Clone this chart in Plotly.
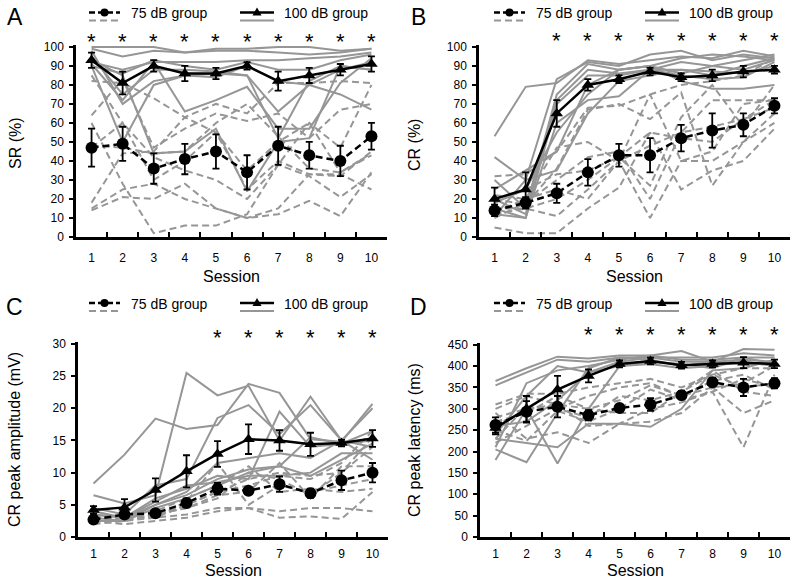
import plotly.graph_objects as go

W, H = 797, 582
sessions = [str(i) for i in range(1, 11)]

# ---------------- Panel A: SR (%) ----------------
A_mean100 = [93, 81, 90, 86, 86, 90, 82, 85, 88, 91]
A_err100 = [4, 6, 3, 4, 3, 2, 5, 4, 3, 4]
A_mean75 = [47, 49, 36, 41, 45, 34, 48, 43, 40, 53]
A_err75 = [10, 9, 8, 8, 9, 9, 10, 7, 8, 7]
A_ind100 = [
    [100, 100, 100, 97, 99, 99, 100, 100, 98, 99],
    [99, 95, 98, 97, 98, 98, 97, 96, 97, 99],
    [92, 88, 92, 92, 92, 93, 93, 94, 95, 97],
    [90, 86, 93, 90, 88, 92, 88, 88, 93, 96],
    [91, 72, 92, 66, 72, 79, 57, 57, 81, 94],
    [98, 70, 82, 85, 86, 85, 66, 80, 88, 92],
    [90, 50, 80, 85, 84, 90, 82, 80, 75, 67],
    [95, 75, 88, 88, 87, 85, 52, 82, 90, 88],
    [93, 85, 44, 45, 57, 24, 50, 52, 90, 88],
]
A_ind75 = [
    [82, 81, 73, 63, 70, 65, 81, 81, 82, 81],
    [64, 83, 47, 57, 65, 61, 65, 52, 67, 70],
    [48, 47, 44, 45, 60, 70, 53, 36, 34, 44],
    [47, 60, 42, 35, 30, 20, 38, 32, 21, 33],
    [18, 44, 45, 63, 55, 25, 40, 33, 32, 45],
    [14, 21, 20, 28, 15, 10, 12, 19, 11, 34],
    [15, 25, 28, 20, 15, 10, 15, 33, 33, 25],
    [60, 28, 2, 6, 6, 12, 38, 60, 47, 80],
    [85, 60, 30, 40, 55, 35, 50, 60, 34, 43],
]
A_stars = [1, 2, 3, 4, 5, 6, 7, 8, 9, 10]

# ---------------- Panel B: CR (%) ----------------
B_mean100 = [20, 25, 65, 80, 83, 87, 84, 85, 87, 88]
B_err100 = [6, 9, 7, 3, 2, 2, 2, 3, 3, 2]
B_mean75 = [14, 18, 23, 34, 43, 43, 52, 56, 59, 69]
B_err75 = [3, 3, 5, 7, 6, 9, 7, 9, 6, 4]
B_ind100 = [
    [53, 79, 81, 93, 91, 93, 95, 94, 98, 95],
    [42, 30, 83, 92, 90, 96, 98, 93, 96, 94],
    [30, 15, 75, 91, 88, 90, 94, 96, 95, 93],
    [20, 12, 72, 88, 86, 88, 92, 90, 93, 96],
    [15, 10, 70, 85, 85, 88, 88, 85, 90, 94],
    [12, 10, 60, 72, 74, 88, 85, 83, 84, 92],
    [18, 25, 55, 75, 88, 90, 82, 78, 78, 80],
    [11, 30, 35, 65, 82, 85, 88, 87, 86, 90],
    [25, 35, 45, 80, 88, 90, 86, 90, 88, 93],
]
B_ind75 = [
    [32, 33, 45, 68, 69, 75, 80, 82, 85, 94],
    [22, 20, 47, 50, 40, 75, 40, 45, 70, 72],
    [15, 15, 11, 25, 40, 10, 40, 40, 50, 60],
    [5, 2, 2, 15, 26, 55, 25, 35, 40, 57],
    [20, 17, 36, 67, 70, 62, 76, 27, 50, 65],
    [10, 18, 30, 42, 45, 20, 55, 72, 72, 72],
    [18, 25, 33, 35, 42, 55, 52, 50, 62, 68],
    [12, 15, 20, 30, 42, 27, 63, 80, 58, 80],
    [13, 20, 25, 20, 40, 48, 55, 58, 62, 72],
]
B_stars = [3, 4, 5, 6, 7, 8, 9, 10]

# ---------------- Panel C: CR peak amplitude (mV) ----------------
C_mean100 = [4.2, 4.6, 7.3, 10.2, 12.9, 15.2, 15.0, 14.4, 14.6, 15.3]
C_err100 = [0.6, 1.3, 1.8, 2.5, 2.0, 2.3, 1.6, 1.8, 0.5, 1.3]
C_mean75 = [2.7, 3.5, 3.7, 5.3, 7.5, 7.2, 8.2, 6.8, 8.8, 10.0]
C_err75 = [0.4, 0.5, 0.4, 0.7, 0.9, 0.5, 1.2, 0.7, 1.5, 1.5]
C_ind100 = [
    [8.3, 12.8, 18.4, 16.8, 17.4, 23.8, 22.4, 15.2, 14.8, 20.7],
    [6.5, 5.2, 6.5, 25.5, 22.0, 23.5, 15.0, 21.8, 15.0, 12.0],
    [4.5, 3.5, 8.0, 9.0, 18.5, 20.5, 16.0, 20.5, 15.0, 20.0],
    [3.5, 3.0, 6.0, 7.5, 9.5, 9.0, 19.5, 14.0, 14.5, 16.5],
    [3.0, 2.5, 5.0, 7.0, 11.5, 12.3, 13.0, 12.3, 15.0, 14.0],
    [3.5, 3.0, 5.5, 8.0, 8.5, 9.5, 9.5, 10.0, 13.0, 13.0],
    [4.0, 3.0, 5.0, 6.5, 9.0, 10.5, 11.0, 15.5, 14.5, 15.0],
    [2.5, 2.5, 4.5, 6.0, 8.0, 10.0, 11.0, 9.5, 12.0, 14.5],
]
C_ind75 = [
    [3.0, 2.5, 3.0, 3.5, 4.5, 4.5, 4.0, 4.5, 4.5, 4.0],
    [2.5, 2.0, 2.5, 3.0, 4.0, 4.5, 3.0, 3.2, 2.8, 7.0],
    [2.5, 3.0, 3.5, 4.5, 6.5, 7.0, 11.5, 6.0, 11.0, 11.0],
    [3.0, 3.5, 3.0, 5.0, 7.0, 9.0, 10.0, 9.5, 10.0, 15.5],
    [3.5, 3.0, 4.0, 6.0, 8.0, 11.0, 7.0, 7.5, 7.0, 7.5],
    [2.5, 2.5, 3.5, 4.5, 6.0, 10.0, 9.0, 6.5, 10.0, 14.0],
    [2.8, 3.0, 3.0, 5.5, 11.5, 5.0, 8.0, 7.0, 8.0, 9.0],
    [2.0, 2.5, 3.5, 5.0, 7.0, 8.0, 9.5, 9.0, 11.5, 16.5],
]
C_stars = [5, 6, 7, 8, 9, 10]

# ---------------- Panel D: CR peak latency (ms) ----------------
D_mean100 = [255, 300, 345, 377, 405, 412, 402, 405, 408, 405]
D_err100 = [15, 30, 32, 15, 8, 8, 8, 8, 13, 10]
D_mean75 = [262, 293, 305, 285, 302, 310, 332, 362, 350, 360]
D_err75 = [18, 25, 25, 12, 8, 15, 10, 10, 20, 12]
D_ind100 = [
    [365, 395, 422, 418, 425, 425, 435, 410, 440, 438],
    [355, 385, 415, 410, 420, 420, 420, 420, 430, 425],
    [210, 360, 390, 400, 415, 425, 415, 415, 420, 420],
    [205, 175, 290, 395, 420, 415, 400, 410, 415, 410],
    [180, 300, 172, 300, 400, 410, 405, 395, 420, 405],
    [240, 330, 400, 385, 400, 405, 395, 400, 410, 400],
    [230, 220, 210, 265, 265, 258, 300, 390, 395, 415],
    [260, 270, 320, 385, 410, 420, 410, 410, 405, 405],
]
D_ind75 = [
    [310, 335, 335, 350, 360, 370, 350, 380, 395, 395],
    [300, 330, 310, 260, 265, 300, 315, 340, 210, 380],
    [290, 230, 245, 220, 265, 270, 290, 350, 290, 320],
    [250, 225, 295, 270, 300, 345, 320, 340, 370, 350],
    [220, 260, 300, 280, 330, 320, 340, 380, 350, 360],
    [280, 300, 310, 300, 320, 355, 330, 365, 380, 345],
    [230, 305, 300, 330, 350, 360, 330, 350, 360, 400],
    [270, 290, 330, 300, 290, 290, 340, 390, 340, 330],
]
D_stars = [4, 5, 6, 7, 8, 9, 10]

FONT = "Liberation Sans, Arial, sans-serif"
GRAY = "#969696"
DASH = "7px,4px"


def px(x):
    return x / W


def py(y):
    return 1 - y / H


panels = [
    dict(letter="A", xd=(76, 387), yd=(45, 237), yr=[0, 101], dtick=10,
         ytitle="SR (%)", m100=A_mean100, e100=A_err100, m75=A_mean75, e75=A_err75,
         i100=A_ind100, i75=A_ind75, stars=A_stars, stary=37, legy=12.5,
         letterpos=(15, 17), ytpos=(15, 143), stpos=(231, 276), legx=0, xstand=8),
    dict(letter="B", xd=(479, 790), yd=(45, 237), yr=[0, 101], dtick=10,
         ytitle="CR (%)", m100=B_mean100, e100=B_err100, m75=B_mean75, e75=B_err75,
         i100=B_ind100, i75=B_ind75, stars=B_stars, stary=36, legy=12.5,
         letterpos=(418, 17), ytpos=(414, 145), stpos=(634, 276), legx=405, xstand=8),
    dict(letter="C", xd=(78, 388), yd=(342, 537), yr=[0, 30.3], dtick=5,
         ytitle="CR peak amplitude (mV)", m100=C_mean100, e100=C_err100, m75=C_mean75, e75=C_err75,
         i100=C_ind100, i75=C_ind75, stars=C_stars, stary=332, legy=303,
         letterpos=(15, 307), ytpos=(14, 440), stpos=(233, 570), legx=0, xstand=4),
    dict(letter="D", xd=(480, 790), yd=(343, 537), yr=[0, 454], dtick=50,
         ytitle="CR peak latency (ms)", m100=D_mean100, e100=D_err100, m75=D_mean75, e75=D_err75,
         i100=D_ind100, i75=D_ind75, stars=D_stars, stary=329, legy=303,
         letterpos=(418, 307), ytpos=(414, 440), stpos=(635, 570), legx=405, xstand=4),
]

fig = go.Figure()
layout = dict(
    width=W, height=H, margin=dict(l=0, r=0, t=0, b=0, autoexpand=False),
    paper_bgcolor="white", plot_bgcolor="white", showlegend=False,
    font=dict(family=FONT, color="black"),
)
annotations = []
shapes = []


def text(x, y, s, size, xanchor="center", angle=0, xref="paper"):
    annotations.append(dict(x=x, y=y, xref=xref, yref="paper", text=s, showarrow=False,
                            xanchor=xanchor, yanchor="middle", textangle=angle,
                            font=dict(size=size, family=FONT, color="black")))


for k, p in enumerate(panels):
    n = "" if k == 0 else str(k + 1)
    xa, ya = "x" + n, "y" + n
    layout["xaxis" + n] = dict(
        type="category", domain=[px(p["xd"][0]), px(p["xd"][1])], anchor=ya,
        range=[-0.5, 9.5], tickson="boundaries", ticks="inside", ticklen=5,
        tickwidth=2, tickcolor="black", showline=True, linewidth=2.5, linecolor="black",
        showgrid=False, zeroline=False, tickfont=dict(size=12, family=FONT),
        ticklabelstandoff=p["xstand"], automargin=False,
    )
    layout["yaxis" + n] = dict(
        domain=[py(p["yd"][1]), py(p["yd"][0])], anchor=xa, range=p["yr"], dtick=p["dtick"],
        ticks="outside", ticklen=4, tickwidth=2, tickcolor="black", showline=True,
        linewidth=2.5, linecolor="black", showgrid=False, zeroline=False,
        tickfont=dict(size=12, family=FONT), automargin=False, ticklabelstandoff=3,
    )
    # individual animals
    for row in p["i75"]:
        fig.add_trace(go.Scatter(x=sessions, y=row, mode="lines", xaxis=xa, yaxis=ya,
                                 line=dict(color=GRAY, width=2, dash=DASH), hoverinfo="skip"))
    for row in p["i100"]:
        fig.add_trace(go.Scatter(x=sessions, y=row, mode="lines", xaxis=xa, yaxis=ya,
                                 line=dict(color=GRAY, width=2), hoverinfo="skip"))
    # group means
    fig.add_trace(go.Scatter(x=sessions, y=p["m75"], mode="lines+markers", xaxis=xa, yaxis=ya,
                             line=dict(color="black", width=2.5, dash=DASH),
                             marker=dict(symbol="circle", size=12, color="black"),
                             error_y=dict(type="data", array=p["e75"], color="black",
                                          thickness=1.8, width=3.5)))
    fig.add_trace(go.Scatter(x=sessions, y=p["m100"], mode="lines+markers", xaxis=xa, yaxis=ya,
                             line=dict(color="black", width=2.5),
                             marker=dict(symbol="triangle-up", size=11, color="black"),
                             error_y=dict(type="data", array=p["e100"], color="black",
                                          thickness=1.8, width=3.5)))
    # significance stars (category index = session - 1)
    for s in p["stars"]:
        text(s - 1, py(p["stary"] + 5), "*", 22, xref=xa)
    # panel letter
    lx, ly = p["letterpos"]
    text(px(lx), py(ly), p["letter"], 23)
    # y title
    tx, ty = p["ytpos"]
    text(px(tx), py(ty), p["ytitle"], 16, angle=-90)
    # x title
    sx, sy = p["stpos"]
    text(px(sx), py(sy), "Session", 16)
    # legend
    ox = p["legx"]
    y1 = p["legy"]
    y2 = y1 + 8
    shapes.append(dict(type="line", xref="paper", yref="paper", x0=px(ox + 89), x1=px(ox + 120),
                       y0=py(y1), y1=py(y1), line=dict(color="black", width=2.5, dash="6px,3px")))
    shapes.append(dict(type="circle", xref="paper", yref="paper", x0=px(ox + 100.5), x1=px(ox + 108.5),
                       y0=py(y1 - 4), y1=py(y1 + 4), fillcolor="black", line=dict(color="black", width=0)))
    shapes.append(dict(type="line", xref="paper", yref="paper", x0=px(ox + 89), x1=px(ox + 120),
                       y0=py(y2), y1=py(y2), line=dict(color=GRAY, width=2, dash="7px,4px")))
    text(px(ox + 129), py(y1 + 0.5), "75 dB group", 14, xanchor="left")
    shapes.append(dict(type="line", xref="paper", yref="paper", x0=px(ox + 240), x1=px(ox + 274),
                       y0=py(y1), y1=py(y1), line=dict(color="black", width=2.5)))
    tx0 = ox + 257
    shapes.append(dict(type="path", xref="paper", yref="paper",
                       path=f"M {px(tx0-4.5)},{py(y1+3)} L {px(tx0+4.5)},{py(y1+3)} L {px(tx0)},{py(y1-5)} Z",
                       fillcolor="black", line=dict(color="black", width=0)))
    shapes.append(dict(type="line", xref="paper", yref="paper", x0=px(ox + 240), x1=px(ox + 274),
                       y0=py(y2), y1=py(y2), line=dict(color=GRAY, width=2)))
    text(px(ox + 282), py(y1 + 0.5), "100 dB group", 14, xanchor="left")

layout["annotations"] = annotations
layout["shapes"] = shapes
fig.update_layout(**layout)
fig.write_html(
    "out.html",
    config={"displayModeBar": False},
    post_script="document.body.style.margin='0';document.body.style.overflow='hidden';",
)
